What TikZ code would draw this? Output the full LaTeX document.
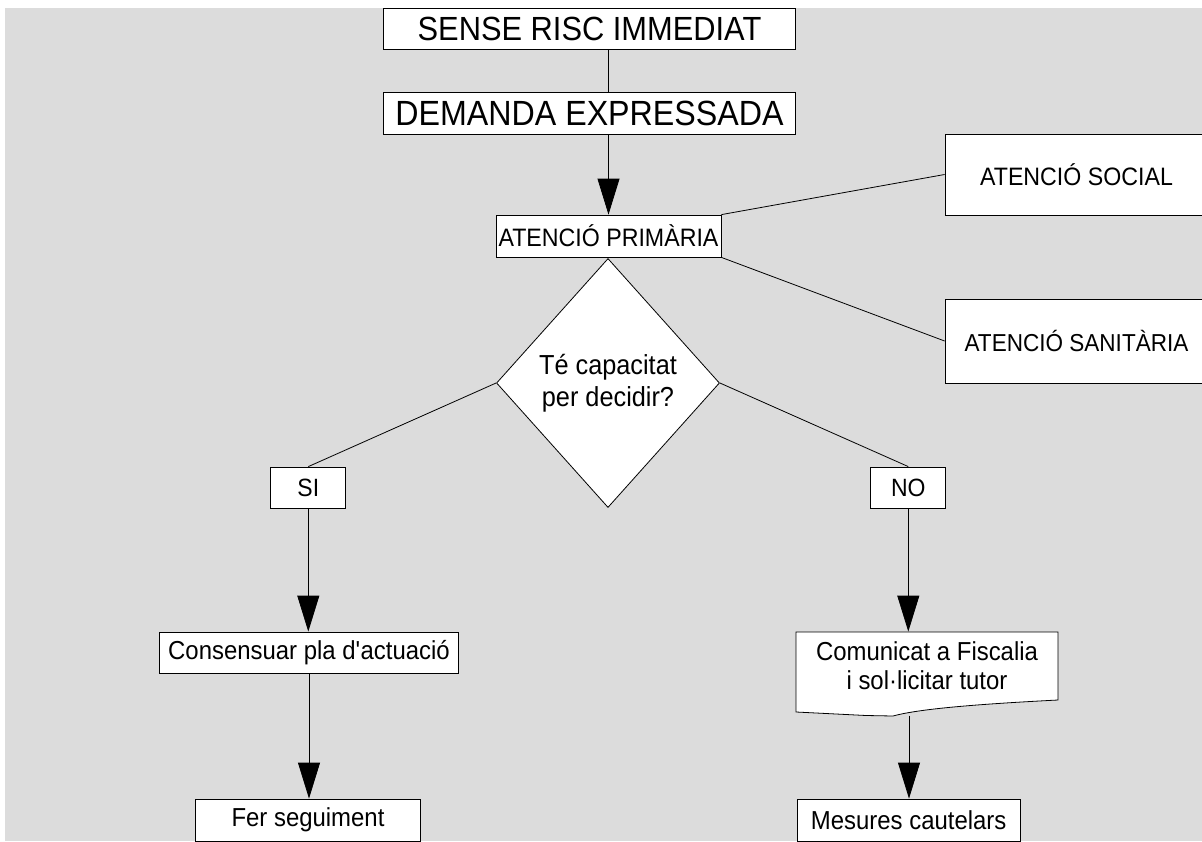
\documentclass[tikz,border=0pt]{standalone}
\usepackage{fontspec}
\setmainfont[FakeStretch=0.92]{Liberation Sans}
\usetikzlibrary{shapes.geometric,arrows.meta}
\definecolor{bggray}{RGB}{220,220,220}
\begin{document}
\begin{tikzpicture}
[x=1pt, y=-1pt, line width=.8pt,
box/.style ={draw, fill=white, inner sep=0pt, font=\fontsize{26}{29}\selectfont},
arr/.style ={-{Triangle[length=36pt,width=22pt]}}]
\useasboundingbox (0,0) rectangle (1202,841);
\fill[bggray] (4.5,7.5) rectangle (1202,841);
\node[box, minimum width=412pt, minimum height=41pt, font=\fontsize{33.5}{38}\selectfont] (sense) at (589.5,28.5) {SENSE RISC IMMEDIAT};
\node[box, minimum width=412pt, minimum height=42pt, font=\fontsize{35}{40}\selectfont] (demanda) at (589.5,113) {DEMANDA EXPRESSADA};
\node[box, minimum width=225pt, minimum height=42pt, font=\fontsize{25.2}{28}\selectfont] (ap) at (608.5,236) {ATENCIÓ PRIMÀRIA};
\node[box, minimum width=263pt, minimum height=81pt, font=\fontsize{25.2}{28}\selectfont] (social) at (1076.5,174.5) {ATENCIÓ SOCIAL};
\node[box, minimum width=263pt, minimum height=84pt, font=\fontsize{24.5}{28}\selectfont] (sanit) at (1076.5,341) {ATENCIÓ SANITÀRIA};
\node[box, shape=diamond, aspect=.9, minimum width=223pt, minimum height=249pt, align=center, font=\fontsize{27.5}{32}\selectfont] (decide) at (608,383) {Té capacitat\\per decidir?};
\node[box, minimum width=75pt, minimum height=41pt, font=\fontsize{25}{29}\selectfont] (si) at (308.3,487.5) {SI};
\node[box, minimum width=75pt, minimum height=41pt, font=\fontsize{25}{29}\selectfont] (no) at (908.3,487.5) {NO};
\node[box, minimum width=299pt, minimum height=41pt] (consens) at (309,652.5) {Consensuar pla d\textquotesingle actuació};
\node[box, minimum width=225pt, minimum height=42pt] (fer) at (308,820) {Fer seguiment};
\node[box, minimum width=223pt, minimum height=42pt] (mesures) at (908.7,820) {Mesures cautelars};
\filldraw[fill=white] (796,632) -- (1058,632) -- (1058,700) .. controls (960,705) and (915,710) .. (893,716)
-- (866,715.5) -- (796,712) -- cycle;
\node[inner sep=0pt, minimum width=262pt, minimum height=68pt, align=center, font=\fontsize{26}{29}\selectfont] (comunic) at (927,666) {Comunicat a Fiscalia\\i sol·licitar tutor};
\coordinate (comunicbot) at (909,715.5);
\draw (ap.north |- sense.south) -- (ap.north |- demanda.north);
\draw[arr] (ap.north |- demanda.south) -- (ap.north);
\draw (ap.north east) -- (social.west);
\draw (ap.south east) -- (sanit.west);
\draw (decide.west) -- (si.north);
\draw (decide.east) -- (no.north);
\draw[arr] (si.south) -- (si.south |- consens.north);
\draw[arr] (consens.south) -- (consens.south |- fer.north);
\draw[arr] (no.south) -- (no.south |- comunic.north);
\draw[arr] (comunicbot) -- (comunicbot |- mesures.north);
\end{tikzpicture}
\end{document}
